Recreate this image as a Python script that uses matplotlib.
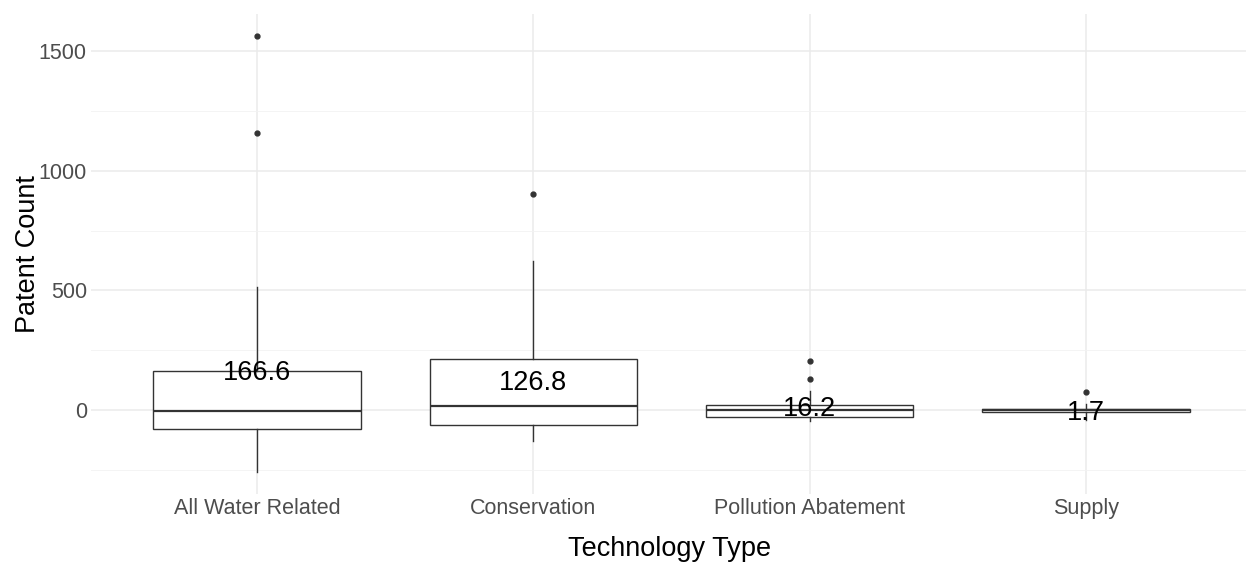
import numpy as np
import matplotlib
matplotlib.use("Agg")
import matplotlib.pyplot as plt

plt.rcParams['font.family'] = ['Liberation Sans', 'DejaVu Sans']

# data
categories = ["All Water Related", "Conservation", "Pollution Abatement", "Supply"]
q1 = [-76, -62, -28, -9]
med = [-2, 19, 1, 1]
q3 = [163, 214, 23, 6]
wlo = [-259, -130, -44, -40]
whi = [516, 623, 81, 26]
fliers = [[1562, 1155], [902], [207, 131], [77]]
means = [166.6, 126.8, 16.2, 1.7]
mean_labels = ["166.6", "126.8", "16.2", "1.7"]

stats = []
for i in range(len(categories)):
    stats.append(dict(med=med[i], q1=q1[i], q3=q3[i], whislo=wlo[i],
                      whishi=whi[i], fliers=fliers[i], label=categories[i]))

W, H = 1246, 563
fig = plt.figure(figsize=(W / 100, H / 100), dpi=100)
ax = fig.add_axes([91 / W, 69 / H, (1252 - 91) / W, (494 - 14) / H])

pos = np.arange(1, len(categories) + 1)
ax.bxp(stats, positions=pos, widths=0.75, showcaps=False, patch_artist=True,
       boxprops=dict(facecolor='white', edgecolor='#333333', linewidth=1.0),
       whiskerprops=dict(color='#333333', linewidth=1.0),
       medianprops=dict(color='#333333', linewidth=1.6),
       flierprops=dict(marker='o', markerfacecolor='#333333', markeredgecolor='#333333',
                       markersize=3.5, linestyle='none'),
       zorder=3)

for x, m, lab in zip(pos, means, mean_labels):
    ax.text(x, m, lab, ha='center', va='center_baseline', fontsize=19.5,
            color='black', zorder=5)

ax.set_xlim(0.4, 4.6)
ax.set_ylim(-349, 1653)
ax.set_yticks([0, 500, 1000, 1500])
ax.set_yticks([-250, 250, 750, 1250], minor=True)
ax.set_xticks(pos)
ax.set_xticklabels(categories)

ax.grid(True, which='major', color='#EBEBEB', linewidth=1.1, zorder=0)
ax.grid(True, which='minor', axis='y', color='#F2F2F2', linewidth=0.6, zorder=0)
ax.set_axisbelow(True)
for s in ax.spines.values():
    s.set_visible(False)
ax.tick_params(which='both', length=0)
ax.tick_params(axis='both', labelsize=15.5, labelcolor='#4D4D4D')
ax.tick_params(axis='x', pad=3)
ax.tick_params(axis='y', pad=3)

ax.set_xlabel("Technology Type", fontsize=19.5)
ax.set_ylabel("Patent Count", fontsize=19.5)
ax.xaxis.set_label_coords((670 - 91) / (1252 - 91), -(549 - 494) / (494 - 14))
ax.yaxis.set_label_coords((28 - 91) / (1252 - 91), 0.5)
ax.xaxis.label.set_va('center')
ax.yaxis.label.set_va('center')

fig.savefig("out.png", dpi=100)
